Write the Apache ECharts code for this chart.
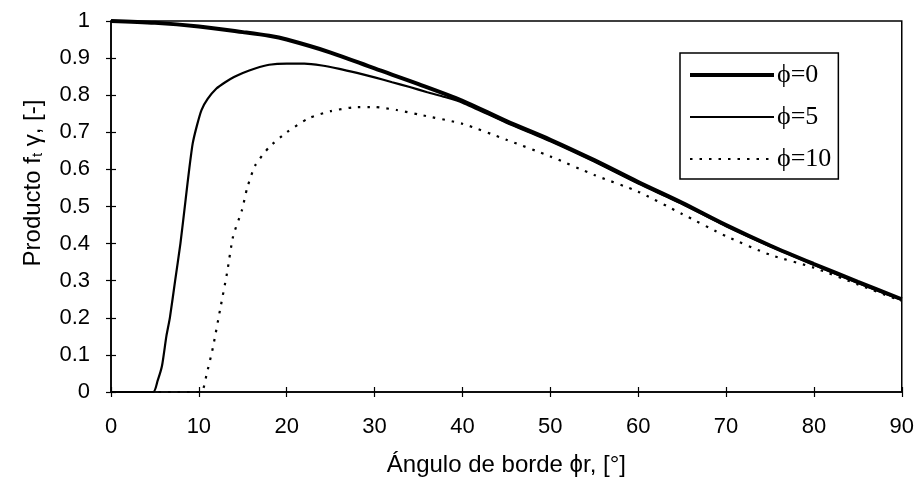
<!DOCTYPE html>
<html>
<head>
<meta charset="utf-8">
<script src="https://cdn.jsdelivr.net/npm/echarts@6/dist/echarts.min.js"></script>
<style>
html,body{margin:0;padding:0;background:#fff;}
#c{width:917px;height:491px;}
</style>
</head>
<body>
<div id="c"></div>
<script>
// Data
var seriesNames = ['\u03d5=0', '\u03d5=5', '\u03d5=10'];
var phi0 = [[0,1.0],[5,0.995],[10,0.985],[15,0.97],[18,0.96],[20,0.95],[25,0.915],[30,0.872],[35,0.83],[40,0.785],[45,0.73],[50,0.68],[55,0.625],[60,0.566],[65,0.51],[70,0.45],[75,0.395],[80,0.345],[85,0.297],[90,0.25]];
var phi5 = [[0,0],[4.8,0],[5.3,0.03],[5.8,0.07],[6.3,0.15],[6.7,0.2],[7.3,0.3],[7.9,0.4],[8.5,0.52],[8.9,0.6],[9.3,0.67],[9.8,0.72],[10.3,0.76],[11,0.79],[12,0.818],[13,0.835],[14,0.849],[15,0.86],[16.4,0.872],[18,0.882],[20,0.885],[22,0.885],[24,0.88],[26,0.871],[28,0.86],[30,0.848],[32,0.835],[34,0.822],[36,0.808],[38,0.795],[40,0.78],[45,0.726],[50,0.676],[55,0.621],[60,0.562],[65,0.507],[70,0.447],[75,0.393],[80,0.343],[85,0.294],[90,0.248]];
var phi10 = [[0,0],[10.2,0],[10.9,0.05],[11.6,0.12],[12.4,0.22],[13.2,0.32],[13.9,0.42],[14.9,0.49],[15.5,0.55],[16.4,0.61],[18,0.66],[20,0.7],[22.5,0.738],[25,0.757],[27.5,0.767],[30,0.768],[32.5,0.76],[35,0.748],[40,0.723],[45,0.68],[50,0.635],[55,0.585],[60,0.54],[65,0.48],[70,0.42],[75,0.37],[80,0.335],[85,0.29],[90,0.245]];
var xTicks = {min:0, max:90, step:10};
var yTicks = {min:0, max:1, step:0.1};

var chart = echarts.init(document.getElementById('c'), null, {renderer:'canvas'});
var sans = 'Liberation Sans, Arial, sans-serif';
var widths = [4, 2.2, 2.2];
var dashes = ['solid', 'solid', [2.5, 7]];
function baseX(inside){
  return {
    type:'value', min:xTicks.min, max:xTicks.max, interval:xTicks.step, position:'bottom',
    axisLine:{show:!inside, onZero:false, lineStyle:{color:'#000', width:1.5}},
    axisTick:{show:true, inside:inside, length:5, lineStyle:{color:'#000', width:1.2}},
    axisLabel:{show:!inside, margin:24, color:'#000', fontFamily:sans, fontSize:22},
    splitLine:{show:false},
    name: inside ? '' : '\u00c1ngulo de borde \u03d5r, [\u00b0]',
    nameLocation:'middle', nameGap:61,
    nameTextStyle:{color:'#000', fontFamily:sans, fontSize:24}
  };
}
function baseY(inside){
  return {
    type:'value', min:yTicks.min, max:yTicks.max, interval:yTicks.step, position:'left',
    axisLine:{show:!inside, onZero:false, lineStyle:{color:'#000', width:1.5}},
    axisTick:{show:true, inside:inside, length:5, lineStyle:{color:'#000', width:1.2}},
    axisLabel:{show:!inside, margin:21, color:'#000', fontFamily:sans, fontSize:22},
    splitLine:{show:false}
  };
}
var option = {
  backgroundColor:'#fff',
  animation:false,
  grid:{left:111, right:15, top:21, bottom:99, show:true, borderColor:'#000', borderWidth:1.5, containLabel:false},
  xAxis:[baseX(false), baseX(true)],
  yAxis:[baseY(false), baseY(true)],
  legend:{
    left:680, top:53, orient:'vertical',
    data:seriesNames.map(function(n, i){
      return {name:n, lineStyle:{width:widths[i], type:dashes[i], color:'#000'}};
    }),
    itemWidth:84, itemHeight:20, itemGap:16,
    padding:[9,7,7,8],
    borderColor:'#000', borderWidth:1.5, backgroundColor:'#fff',
    itemStyle:{opacity:0, color:'rgba(0,0,0,0)', borderWidth:0},
    textStyle:{color:'#000', fontFamily:'Liberation Serif, Times New Roman, serif', fontSize:26, lineHeight:26, padding:[0,0,0,-2]}
  },
  graphic:[{
    type:'text', rotation:Math.PI/2,
    x:33, y:183,
    style:{
      text:'{a|Producto f}{s|t}{a| \u03b3, [-]}',
      rich:{
        a:{fontFamily:sans, fontSize:24, fill:'#000'},
        s:{fontFamily:sans, fontSize:15, fill:'#000', padding:[10,0,0,0]}
      },
      align:'center', verticalAlign:'middle'
    }
  }],
  series:[
    {name:seriesNames[0], type:'line', data:phi0, symbol:'none', smooth:0.3, xAxisIndex:0, yAxisIndex:0,
     lineStyle:{color:'#000', width:widths[0], type:dashes[0]}, itemStyle:{color:'#000'}, z:5},
    {name:seriesNames[1], type:'line', data:phi5, symbol:'none', smooth:0.2, xAxisIndex:0, yAxisIndex:0,
     lineStyle:{color:'#000', width:widths[1], type:dashes[1]}, itemStyle:{color:'#000'}, z:4},
    {name:seriesNames[2], type:'line', data:phi10, symbol:'none', smooth:0.2, xAxisIndex:0, yAxisIndex:0,
     lineStyle:{color:'#000', width:widths[2], type:dashes[2]}, itemStyle:{color:'#000'}, z:3}
  ]
};
chart.setOption(option);
</script>
</body>
</html>
